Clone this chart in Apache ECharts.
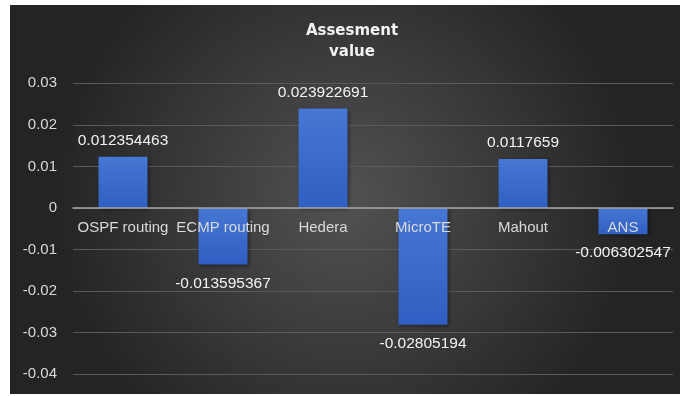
<!DOCTYPE html>
<html>
<head>
<meta charset="utf-8">
<script src="https://cdn.jsdelivr.net/npm/echarts@6/dist/echarts.min.js"></script>
<style>
html,body{margin:0;padding:0;background:#fff;}
#c{width:682px;height:396px;}
</style>
</head>
<body>
<div id="c"></div>
<script>
const categories = ['OSPF routing', 'ECMP routing', 'Hedera', 'MicroTE', 'Mahout', 'ANS'];
const values = [0.012354463, -0.013595367, 0.023922691, -0.02805194, 0.0117659, -0.006302547];
const titleText = 'Assesment\nvalue';
const yMin = -0.04, yMax = 0.03, yStep = 0.01;

const chart = echarts.init(document.getElementById('c'), null, {renderer: 'canvas'});
const font = '"Liberation Sans", Arial, sans-serif';

const gridTop = 83.3, gridBottom = 21.7;
const gridHeight = 396 - gridTop - gridBottom;
const zeroOffset = -gridHeight * (0 - yMin) / (yMax - yMin);

const barData = values.map(v => ({
  value: v,
  label: { position: v >= 0 ? 'top' : 'bottom', distance: v >= 0 ? 8 : 11 }
}));

chart.setOption({
  backgroundColor: '#ffffff',
  animation: false,
  graphic: [{
    type: 'rect',
    left: 10, top: 5,
    shape: { width: 670, height: 389 },
    z: -10,
    silent: true,
    style: {
      fill: new echarts.graphic.RadialGradient(0.5, 0.5, 0.75, [
        { offset: 0, color: '#525252' },
        { offset: 1, color: '#242424' }
      ])
    }
  }, {
    type: 'text',
    x: 352, y: 21,
    z: 10,
    silent: true,
    style: {
      text: titleText,
      align: 'center',
      verticalAlign: 'top',
      fill: '#f2f2f2',
      font: 'bold 15px "DejaVu Sans", sans-serif',
      lineHeight: 21
    }
  }],
  grid: { left: 73, right: 9, top: gridTop, bottom: gridBottom, containLabel: false },
  xAxis: {
    type: 'category',
    data: categories,
    offset: zeroOffset,
    z: 10,
    axisLine: { onZero: false, lineStyle: { color: '#a6a6a6', width: 1.5 } },
    axisTick: { show: false },
    axisLabel: { color: '#d9d9d9', fontFamily: font, fontSize: 15, margin: 12, interval: 0 },
    splitLine: { show: false }
  },
  yAxis: {
    type: 'value',
    min: yMin, max: yMax, interval: yStep,
    axisLine: { show: false },
    axisTick: { show: false },
    axisLabel: {
      color: '#d9d9d9', fontFamily: font, fontSize: 15, margin: 16,
      formatter: v => String(+v.toFixed(2))
    },
    splitLine: { lineStyle: { color: '#5a5a5a', width: 1 } }
  },
  series: [{
    type: 'bar',
    data: barData,
    barWidth: '49%',
    itemStyle: {
      color: new echarts.graphic.LinearGradient(0, 0, 0, 1, [
        { offset: 0, color: '#4677d4' },
        { offset: 1, color: '#2f5fc2' }
      ]),
      shadowColor: 'rgba(0,0,0,0.45)',
      shadowBlur: 4,
      shadowOffsetX: 1,
      shadowOffsetY: 1
    },
    label: {
      show: true,
      color: '#f2f2f2',
      fontFamily: font,
      fontSize: 15.5,
      formatter: p => String(p.value)
    }
  }]
});
</script>
</body>
</html>
